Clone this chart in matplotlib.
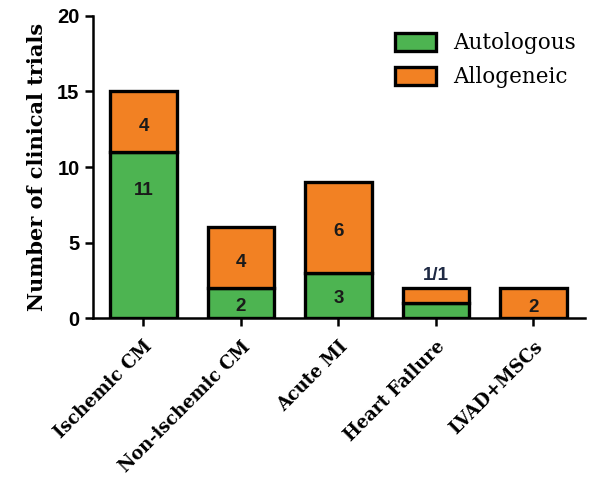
import numpy as np
import matplotlib
matplotlib.use('Agg')
import matplotlib.pyplot as plt
from matplotlib.patches import Patch

# Trials per indication, split by cell source
categories = ['Ischemic CM', 'Non-ischemic CM', 'Acute MI', 'Heart Failure', 'LVAD+MSCs']
autologous = [11, 2, 3, 1, 0]
allogeneic = [4, 4, 6, 1, 2]
yticks = [0, 5, 10, 15, 20]

green = '#4db451'
orange = '#f28123'

fig = plt.figure(figsize=(5.91, 4.82), dpi=100)
ax = fig.add_axes([0.157, 0.340, 0.833, 0.627])

x = np.arange(len(categories))
w = 0.68
ax.bar(x, autologous, w, color=green, edgecolor='black', linewidth=2.4, label='Autologous')
ax.bar(x, allogeneic, w, bottom=autologous, color=orange, edgecolor='black', linewidth=2.4,
	label='Allogeneic')

# segment labels
lab_kw = dict(ha='center', va='center', fontsize=13.5, fontweight='bold',
	family='Liberation Sans', color='#1a1a1a')
for i in range(len(categories)):
	a, b = autologous[i], allogeneic[i]
	if categories[i] == 'Heart Failure':
		ax.text(x[i], a + b + 0.85, '%d/%d' % (a, b), color='#1f2a44',
			**{k: v for k, v in lab_kw.items() if k != 'color'})
		continue
	if a > 0:
		ya = a * 0.77 if a > 5 else a / 2 - 0.2
		ax.text(x[i], ya, str(a), **lab_kw)
	if b > 0:
		ax.text(x[i], a + b / 2 - 0.3, str(b), **lab_kw)

ax.set_xlim(-0.52, 4.53)
ax.set_ylim(0, 20)
ax.set_yticks(yticks)
ax.set_yticklabels([str(t) for t in yticks], fontsize=14.5, fontweight='bold', family='Liberation Sans')
ax.set_xticks(x)
ax.set_xticklabels(categories, rotation=45, ha='right', rotation_mode='anchor',
	fontsize=12.8, fontweight='bold', family='DejaVu Serif')
ax.set_ylabel('Number of clinical trials', fontsize=15, fontweight='bold', family='DejaVu Serif',
	labelpad=7)

for s in ['top', 'right']:
	ax.spines[s].set_visible(False)
ax.spines['left'].set_linewidth(1.8)
ax.spines['bottom'].set_linewidth(1.8)
ax.tick_params(axis='both', width=1.8, length=6, color='black')
ax.tick_params(axis='x', pad=8)

handles = [Patch(facecolor=green, edgecolor='black', linewidth=2.4, label='Autologous'),
	Patch(facecolor=orange, edgecolor='black', linewidth=2.4, label='Allogeneic')]
ax.legend(handles=handles, loc='upper right', bbox_to_anchor=(1.02, 1.01), frameon=False,
	prop={'family': 'DejaVu Serif', 'size': 15.5}, handlelength=1.9, handleheight=0.9,
	handletextpad=0.8, labelspacing=0.55)

plt.savefig('out.png', dpi=100)
